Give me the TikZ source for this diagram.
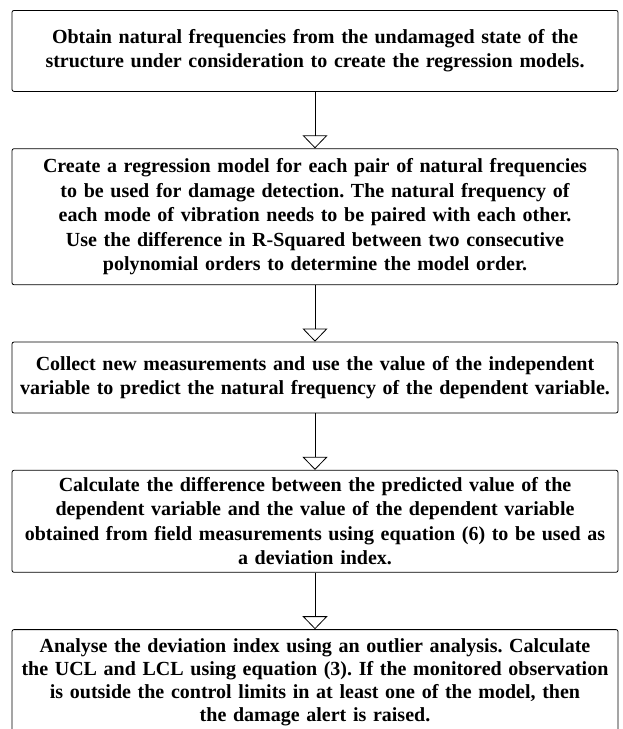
\documentclass[tikz,border=0pt]{standalone}
\usepackage{fontspec}
\setmainfont{Liberation Serif}
\usetikzlibrary{arrows.meta, positioning, chains}
\frenchspacing

\begin{document}
\begin{tikzpicture}[x=1pt, y=1pt, start chain=1 going below, node distance=56.5pt,
	stepbox/.style={draw, line width=0.8pt, rounded corners=2pt, minimum width=606pt, text width=604pt,
		align=center, inner sep=0pt, font=\fontsize{20}{24.5}\selectfont\bfseries},
	flow/.style={-{Triangle[open, width=25pt, length=13pt]}, line width=0.8pt}]
	\useasboundingbox (0,0) rectangle (622,-729);
	\node[stepbox, on chain=1, anchor=north, minimum height=81pt] at (315,-10) (obt)
		{Obtain natural frequencies from the undamaged state of the\\
		 structure under consideration to create the regression models.};
	\node[stepbox, on chain=1, minimum height=136pt] (reg)
		{Create a regression model for each pair of natural frequencies\\
		 to be used for damage detection. The natural frequency of\\
		 each mode of vibration needs to be paired with each other.\\
		 Use the difference in R-Squared between two consecutive\\
		 polynomial orders to determine the model order.};
	\node[stepbox, on chain=1, minimum height=71pt] (col)
		{Collect new measurements and use the value of the independent\\
		 variable to predict the natural frequency of the dependent variable.};
	\node[stepbox, on chain=1, minimum height=102pt] (dev)
		{Calculate the difference between the predicted value of the\\
		 dependent variable and the value of the dependent variable\\
		 obtained from field measurements using equation (6) to be used as\\
		 a deviation index.};
	\node[stepbox, on chain=1, minimum height=106pt,
		font=\fontsize{20}{23}\selectfont\bfseries] (ana)
		{Analyse the deviation index using an outlier analysis. Calculate\\
		 the UCL and LCL using equation (3). If the monitored observation\\
		 is outside the control limits in at least one of the model, then\\
		 the damage alert is raised.};
	\draw[flow] (obt) -- (reg);
	\draw[flow] (reg) -- (col);
	\draw[flow] (col) -- (dev);
	\draw[flow] (dev) -- (ana);
\end{tikzpicture}
\end{document}
